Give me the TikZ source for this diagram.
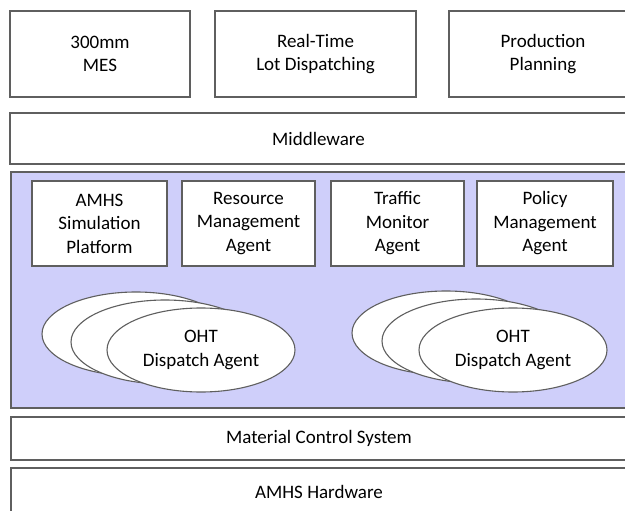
\documentclass[tikz,border=0pt]{standalone}
\usepackage{fontspec}
\setmainfont{Carlito}
\usetikzlibrary{shapes.geometric}
\definecolor{frame}{RGB}{95,95,95}
\definecolor{agentbg}{RGB}{207,207,250}
\tikzset{
  layer/.style={draw=frame, line width=1.1pt, fill=white, inner sep=0pt,
    align=center, font=\fontsize{19}{23.5}\selectfont},
  agentbox/.style={layer},
  oht/.style={ellipse, draw=frame, line width=1.1pt, fill=white, inner sep=0pt,
    minimum width=188pt, minimum height=84pt, align=center,
    font=\fontsize{19}{23.5}\selectfont},
}
\begin{document}
\begin{tikzpicture}[x=1pt, y=-1pt]
\useasboundingbox (0,0) rectangle (625,511);
\clip (0,0) rectangle (625,511);
\fill[white] (0,0) rectangle (625,511);

% application layer
\node[layer, minimum width=180pt, minimum height=86pt] (mes) at (100,54) {300mm\\MES};
\node[layer, minimum width=201pt, minimum height=86pt] (rtd) at (315.5,54) {Real-Time\\Lot Dispatching};
\node[layer, minimum width=188pt, minimum height=86pt] (pp) at (543,54) {Production\\Planning};

% middleware
\node[layer, minimum width=617pt, minimum height=51pt] (mw) at (318.5,138.5) {Middleware};

% agent layer
\node[draw=frame, line width=1.1pt, fill=agentbg, minimum width=616pt, minimum height=236pt,
  inner sep=0pt] (agents) at (319,290) {};
\node[agentbox, minimum width=135pt, minimum height=85pt] (sim) at (99.5,223.5) {AMHS\\Simulation\\Platform};
\node[agentbox, minimum width=133pt, minimum height=85pt] (ram) at (248.5,223.5) {Resource\\Management\\Agent};
\node[agentbox, minimum width=133pt, minimum height=85pt] (tma) at (397.5,223.5) {Traffic\\Monitor\\Agent};
\node[agentbox, minimum width=136pt, minimum height=85pt] (pma) at (545,223.5) {Policy\\Management\\Agent};

% OHT dispatch agents, left group
\node[oht] (la) at (136,334) {};
\node[oht] (lb) at (165,342) {};
\node[oht] (lc) at (201,350) {OHT\\Dispatch Agent};

% OHT dispatch agents, right group
\node[oht] (ra) at (446,333) {};
\node[oht] (rb) at (476,341) {};
\node[oht] (rc) at (513,350) {OHT\\Dispatch Agent};

% control and hardware layers
\node[layer, minimum width=616pt, minimum height=43pt] (mcs) at (319,438.5) {Material Control System};
\node[layer, minimum width=616pt, minimum height=47pt] (hw) at (319,491.5) {AMHS Hardware};
\end{tikzpicture}
\end{document}
